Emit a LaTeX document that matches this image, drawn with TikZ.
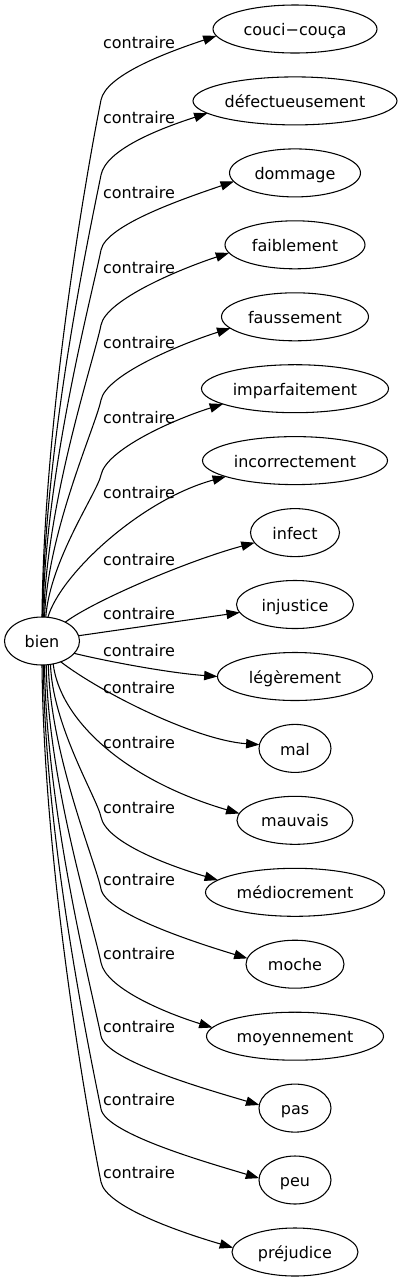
\documentclass[tikz,border=0pt]{standalone}
\usepackage{fontspec}
\setmainfont{DejaVu Sans}
\usetikzlibrary{shapes.geometric,arrows.meta}
\begin{document}
\begin{tikzpicture}[x=0.75pt,y=-0.75pt,
  every node/.style={font=\fontsize{12pt}{14pt}\selectfont},
  tnode/.style={draw,ellipse,line width=0.8pt,inner sep=0pt,outer sep=0pt,minimum height=36pt,text height=11pt,text depth=1pt},
  lbl/.style={inner sep=0pt,text height=11pt,text depth=1pt},
  conn/.style={line width=0.8pt,-{Triangle[length=10pt,width=7pt]}}]
\useasboundingbox (0,0) rectangle (403,1283);
% nodes
\node[tnode,minimum width=56.25pt] (bien) at (42,641) {bien};
\node[tnode,minimum width=123pt] (couci) at (295,29) {couci−couça};
\node[tnode,minimum width=153pt] (defect) at (295,100.9) {défectueusement};
\node[tnode,minimum width=98.25pt] (dommage) at (295,172.9) {dommage};
\node[tnode,minimum width=105pt] (faible) at (295,244.8) {faiblement};
\node[tnode,minimum width=110.25pt] (fausse) at (295,316.8) {faussement};
\node[tnode,minimum width=140.25pt] (impar) at (295,388.7) {imparfaitement};
\node[tnode,minimum width=138.75pt] (incorr) at (295,460.6) {incorrectement};
\node[tnode,minimum width=66.75pt] (infect) at (295,532.6) {infect};
\node[tnode,minimum width=87.75pt] (injust) at (295,604.5) {injustice};
\node[tnode,minimum width=116.25pt] (leger) at (295,676.5) {légèrement};
\node[tnode,minimum width=54pt] (mal) at (295,748.4) {mal};
\node[tnode,minimum width=87pt] (mauvais) at (295,820.3) {mauvais};
\node[tnode,minimum width=134.25pt] (medio) at (295,892.3) {médiocrement};
\node[tnode,minimum width=73.5pt] (moche) at (295,964.2) {moche};
\node[tnode,minimum width=132.75pt] (moyen) at (295,1036.2) {moyennement};
\node[tnode,minimum width=54pt] (pas) at (295,1108.1) {pas};
\node[tnode,minimum width=54pt] (peu) at (295,1180) {peu};
\node[tnode,minimum width=94.5pt] (prej) at (295,1252) {préjudice};
% labels
\node[lbl] (l1) at (139,42) {contraire};
\node[lbl] (l2) at (139,117) {contraire};
\node[lbl] (l3) at (139,191.7) {contraire};
\node[lbl] (l4) at (139,267) {contraire};
\node[lbl] (l5) at (139,342) {contraire};
\node[lbl] (l6) at (139,417) {contraire};
\node[lbl] (l7) at (139,492) {contraire};
\node[lbl] (l8) at (139,559) {contraire};
\node[lbl] (l9) at (139,612.7) {contraire};
\node[lbl] (l10) at (139,650) {contraire};
\node[lbl] (l11) at (139,687) {contraire};
\node[lbl] (l12) at (139,742) {contraire};
\node[lbl] (l13) at (139,806.7) {contraire};
\node[lbl] (l14) at (139,879) {contraire};
\node[lbl] (l15) at (139,952.7) {contraire};
\node[lbl] (l16) at (139,1026) {contraire};
\node[lbl] (l17) at (139,1099) {contraire};
\node[lbl] (l18) at (139,1172) {contraire};
% edges
\draw[conn] (bien.90) .. controls (44,410) and (88.6,162) .. (101,100) .. controls (106,75) and (166.6,52.5) .. (couci.185);
\draw[conn] (bien.89) .. controls (44.6,440) and (90.4,228) .. (101,175) .. controls (106,150) and (157,129.5) .. (defect.188);
\draw[conn] (bien.88) .. controls (45.3,470) and (92.2,294) .. (101,250) .. controls (106,225) and (184.3,198.4) .. (dommage.188);
\draw[conn] (bien.86) .. controls (46.6,500) and (94,360) .. (101,325) .. controls (106,300) and (179,269.3) .. (faible.187);
\draw[conn] (bien.84) .. controls (48,530) and (95.8,426) .. (101,400) .. controls (106,375) and (179.7,344.3) .. (fausse.190);
\draw[conn] (bien.81) .. controls (50,560) and (97.6,492) .. (101,475) .. controls (106,450) and (172,420) .. (impar.192);
\draw[conn] (bien.76) .. controls (60,575) and (140,500) .. (incorr.193);
\draw[conn] (bien.39) .. controls (95,600) and (190,560) .. (infect.194);
\draw[conn] (bien) -- (injust);
\draw[conn] (bien.339) .. controls (110,662) and (170,673) .. (leger.180);
\draw[conn] (bien.312) .. controls (100,692) and (195,740) .. (mal.174);
\draw[conn] (bien.296) .. controls (60,720) and (125,780) .. (mauvais.173);
\draw[conn] (bien.290) .. controls (52.5,726) and (97.4,798.8) .. (101,817) .. controls (106,842) and (167.5,865.3) .. (medio.171);
\draw[conn] (bien.285) .. controls (50.3,754.6) and (95.6,862.1) .. (101,889) .. controls (106,914) and (197.6,943.2) .. (moche.173);
\draw[conn] (bien.280) .. controls (48.2,784) and (93.9,927) .. (101,962.7) .. controls (106,987.7) and (163,1012.2) .. (moyen.174);
\draw[conn] (bien.276) .. controls (46.5,813.4) and (92.1,991.5) .. (101,1036) .. controls (106,1061) and (209.3,1090.1) .. (pas.175);
\draw[conn] (bien.273) .. controls (45.3,842.6) and (90.3,1055.7) .. (101,1109) .. controls (106,1134) and (209.1,1163) .. (peu.177);
\draw[conn] (bien.270) .. controls (44,871.8) and (88.6,1120) .. (101,1182) .. controls (106,1207) and (182.9,1233) .. (prej.176);
\end{tikzpicture}
\end{document}
